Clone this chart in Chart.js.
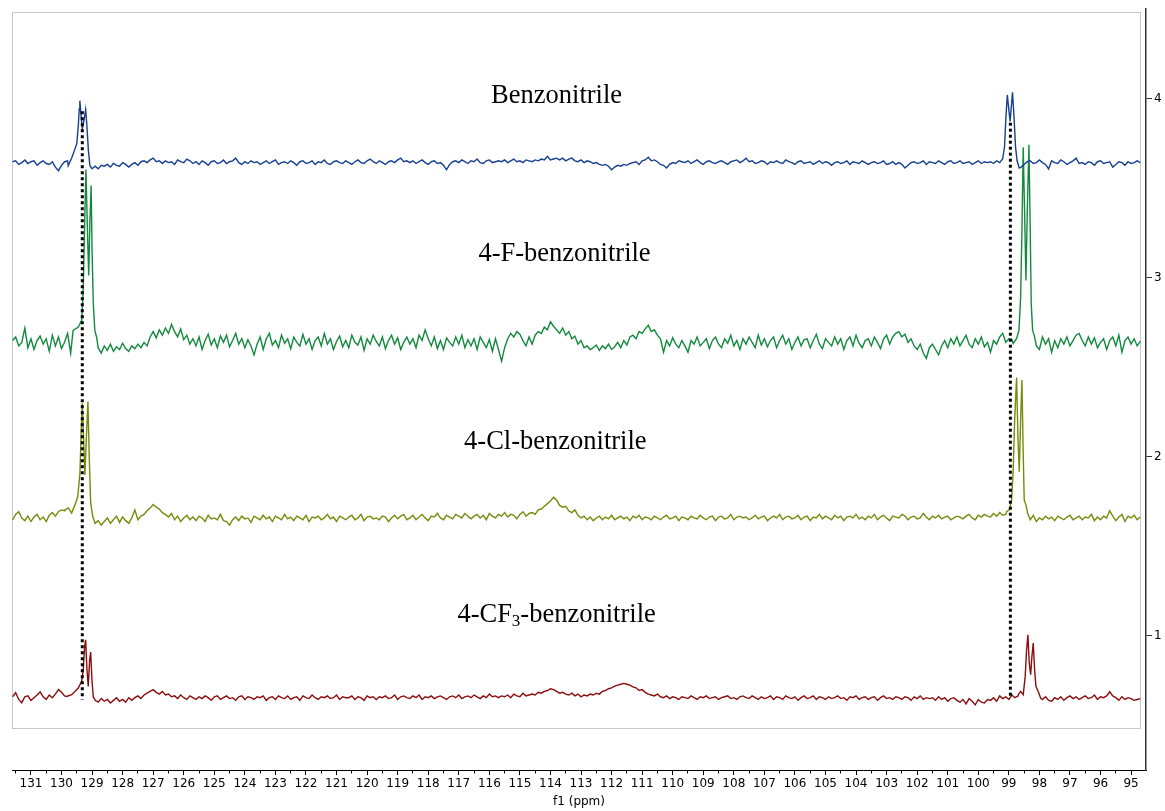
<!DOCTYPE html>
<html>
<head>
<meta charset="utf-8">
<script src="https://cdn.jsdelivr.net/npm/chart.js@4.4.1/dist/chart.umd.min.js"></script>
<style>
  body { margin: 0; background: #fff; }
  canvas { display: block; }
</style>
</head>
<body>
<canvas id="nmr" width="1165" height="811"></canvas>
<script>
// baseline rows are sampled every 0.1 ppm, from 131.6 down to 94.7 (10 points per row)
// values are in hundredths of one stack unit; null = covered by the peak tables below
const gridStart = 131.6;
const gridStep = 0.1;

const names = ['Benzonitrile', '4-F-benzonitrile', '4-Cl-benzonitrile', '4-CF3-benzonitrile'];
const colors = ['#173f8f', '#128a3e', '#748c0b', '#8c0d0d'];
const offsets = [3.643, 2.639, 1.658, 0.654];

const benzNoise = [
  0.5, 1, -1, 0, 1.5, -0.5, 0.5, 1, -1.5, 0,
  1, -0.5, -1, 0.5, -2.5, -4.5, -1.5, 0.5, 1, null,
  null, null, null, null, null, null, null, -2, -3.5, -1.5,
  -2, -1, -2.5, -0.5, -1.5, -2, 0, -1, -2.5, -1,
  0, -1.5, 0.5, 1, 0, 1.5, 2.5, 0.5, 1, -0.5,
  1, 0, 0.5, -1, 1.5, 0.5, 0, 2, 1, -0.5,
  0.5, -1, 1, 0, -1.5, 0.5, 1, -0.5, 0, 1.5,
  -0.5, 0.5, 1, 2.5, 0, -1, 0.5, -0.5, 1, 0,
  0.5, -1, 0, 1, -0.5, 0.5, 1.5, -1, 0, 0.5,
  -0.5, 1, 0, -1.5, 0.5, 1, -0.5, 0, 1, -1,
  0.5, 0, 1.5, -0.5, -1, 0.5, 1, 0, -0.5, 1,
  0, -1, 0.5, 1.5, 0, -0.5, 1, 2, 0.5, -0.5,
  1, 0, -1, 0.5, 1, 0, 1.5, 2.5, 0.5, 1,
  0, 1, -0.5, 0.5, 1.5, 0, -1, 0.5, 1, -0.5,
  0, -1.5, -4, -1, 0.5, 1, 0, 1.5, 0.5, -0.5,
  1, 0.5, 2, 0, -0.5, 1, 1.5, 0, 0.5, 1,
  0.5, 1.5, 0, 1, 2, 0.5, 1, 0, 1.5, 1,
  0.5, 1.5, 1, 2, 1.5, 3.5, 1.5, 2, 2.5, 1.5,
  2.5, 1, 2, 2.5, 1, 0.5, 1.5, 0, 1, 0.5,
  -0.5, 0, -1, -1.5, -1, -2, -4, -2.5, -1.5, -2,
  -1, -1.5, -0.5, 0, 0.5, -1, 1, 1.5, 3, 1,
  1.5, 0.5, -1, -1.5, -3, -1, 0, -0.5, 1, 0.5,
  0, 1, -0.5, 0.5, 1.5, 0, -1, 0.5, 1, 0,
  -0.5, 0.5, 1, 0, -1, 0.5, 1, 1.5, 0, 1,
  2.5, 0.5, 1, -0.5, 0, 1, 0.5, -1, 0.5, 0,
  1, 0, -0.5, 1.5, 0.5, 0, -1, 0.5, 1, -0.5,
  0, 0.5, -1, 0, 1, -0.5, 0.5, 0, -1.5, 0,
  0.5, -0.5, 0, 1, -1, 0.5, 0, -0.5, 1, 0,
  -1, 0, 0.5, -0.5, 0, 1, -1, -0.5, 0.5, -1,
  0, -1, -3, -1.5, 0, 0.5, -0.5, 0, 1, -1,
  0.5, 0, -0.5, 1, 0, -1, 0.5, 1, -0.5, 0,
  1, -0.5, 0, 0.5, -1, 0, 1, -0.5, 0.5, 0,
  0.5, -0.5, 1, 0, null, null, null, null, null, null,
  -2.5, -1, 0.5, 1, -0.5, 0, 1.5, 0, -1, -3.5,
  1, 0, -0.5, 1.5, 0.5, -1, 0, 1, 2.5, -0.5,
  0, -1, 0.5, 0, -1.5, 0.5, 1, -0.5, 0, 0.5,
  -2.5, -1, 0.5, 0, -1.5, 0.5, -0.5, 0, 1, 0
];

const fluoroNoise = [
  1, 3, -2, 0, 8, -3, 2, -4, 1, 3.5,
  -1, 2, -5, 4, -2, 3, -3.5, 0, 5, -6,
  null, null, null, null, null, null, null, null, -3, -6,
  -2, -4.5, -1, -5, -2.5, -4, -0.5, -3.5, -5, -2,
  -3.5, -1, -3, 0, -2, 3, 6, 2.5, 7, 4,
  8, 5, 10, 6, 3, 7.5, 1.5, 4, -1, 2,
  -2, 3, -4, 1, 4.5, -1.5, 2, -3, 3.5, 0,
  4, -2.5, 1, 5, -1, 2, -3, 1.5, -2, -7,
  -1, 3, -4, 2, 5, -1.5, 1, -3, 4, -0.5,
  2, -3.5, 3, 0, -2, 4.5, -1, 2, -4, 1,
  3, -2, 5, -1, 2, -4, 0.5, 3.5, -2.5, 1,
  -3, 4, 0, -1.5, 3, -4.5, 2, -1, 4, 0.5,
  -2, 3, -3.5, 1, 4, -1, 2.5, -4, 0, 3,
  -1, 2, -3, 4, 1, 7, 2, -2, 3, -3.5,
  1, -4, 2.5, 0, -2, 3, -1, 4, -3, 1.5,
  -2, 2, -4, 3, 0, -3, 1.5, -5, 2, -4,
  -10.5, -3, 2, 5, 3, 6, 4.5, 1, -2, 3,
  -1, 4, 6, 5, 8.5, 7, 11.5, 9, 7, 5,
  8, 4, 6, 2, 3.5, -1, 1, -3, -2, -4,
  -3, -1.5, -4.5, -2, -3.5, -1, -4, -2.5, 0, -3,
  1, -1.5, 3, 4, 2, 6, 5, 7.5, 9.5, 6,
  7, 4, 2, -5.5, 1, -2, 2.5, -1, -3, 1,
  -2, -5.5, 1, -1, 3, -2, 0, 2, -3.5, 1,
  3, -1, -3, 2, -0.5, 4, -2, 1, -4, 2,
  -1, 3, 0, -3, 4, -1.5, 2, -2.5, 1, 3,
  -3, 1, 4, -1, 2, -4, 0, 3, -2, 1.5,
  2, -3, 1, 4.5, -1, -3.5, 2, 0, -2, 3,
  -1, 2, -4, 1, 3, -2, 4, -0.5, -3, 1,
  2, -2, 3, 0, -3.5, 2, 4, -1, 3, 5,
  6, 3, 4.5, 0, 2, -2, -4, -1, -6, -9,
  -3, -1, -4, -7, -2, 1, -3, 2, -1, 3,
  -2, 1, 4, -1, -3, 2, -1, 3, -2.5, 0,
  -5.5, 1, -1, 3, 5, 0, 2, 1.5, null, null,
  null, null, null, null, null, -2, -4, 3, -1, 2,
  -5.5, 1, -3, 2, -1, 3, -2, 1, 4, 5,
  1, -2, 3, -1, 2.5, -3, 0, 2, -4, 1,
  3, -2, 4, -5.5, 1, 3, -1, 2, -2, 0.5
];

const chloroNoise = [
  -1, 2, 3.5, 0, -1.5, 1, -2, 0.5, 2, -1,
  0.5, -2, 1.5, 3, 1, 3.5, 4.5, 4, null, null,
  null, null, null, null, null, null, null, -3, -1.5, -4,
  -2, 0, -3, -1, 1, -2.5, 0.5, -1.5, -3, 0,
  4.5, -1, 1, 2, 4, 5.5, 7.5, 6, 5, 3,
  2, 0.5, 2.5, -1, 1, -2, 0, 1.5, -1, 0.5,
  -1.5, 1, 0, -2, 1.5, -0.5, 0, -1, 2, -1.5,
  -2, -4, -1, 0.5, -1.5, 1, -0.5, 0, -2.5, 1,
  0, -1, 1.5, -0.5, 0.5, -2, 1, 0, -1, 2,
  -0.5, 0.5, -1.5, 1, 0, -1, 1.5, -2, 0.5, 0,
  1, -1, 0, 2, -0.5, 0.5, -2, 1, 0, -1,
  0.5, 1.5, -1, 0, 2, -1.5, 0.5, 1, -0.5, 0,
  -1, 1, 0.5, -2, 0, 1.5, -0.5, 1, 2, -1,
  0, 1.5, -1, 0.5, 2, 0, -1.5, 1, 0.5, 2.5,
  0, -1, 1.5, 0.5, -0.5, 2, 1, 0, 2.5, 1,
  -0.5, 1, 2, 0, 1.5, -1, 2.5, 1, 0, 2,
  1, 3, 0.5, 2, 1.5, -0.5, 2, 3.5, 1, 2.5,
  3, 2, 4.5, 5, 6.5, 8, 9.5, 11.5, 10, 7,
  6, 6.5, 4, 3, 4.5, 1.5, 0, 1, -1, 0.5,
  -1.5, 0, 1, -1, 0.5, -0.5, 1.5, -1, 0, 1,
  -0.5, 0.5, -1.5, 1, 0, 1.5, -1, 0.5, 0, -1,
  1, 0, -1, 0.5, 1.5, -0.5, 0, 1, -1.5, 0.5,
  0, -1, 1, 0, -0.5, 1.5, 0, -1, 0.5, 1,
  -1.5, 0.5, 1, -0.5, 0, 2, -1, 0.5, 1, 0,
  0.5, -1, 0, 1.5, -0.5, 0.5, 1, -1.5, 0, 1,
  0, 2, -1, 0.5, 1, -0.5, 0, 1.5, -1, 0.5,
  1, -1.5, 0.5, 0, 2, -0.5, 1, 0, -1, 1.5,
  0, 1, -1.5, 0.5, 1, 0, 2, -0.5, 0.5, -1,
  1, 0, 2, -1, 0.5, 1.5, 0, -1.5, 1, 0.5,
  0, 2, 1, -1, 0.5, 1, -0.5, 0, 2.5, 0.5,
  -1, 1, 0, 1.5, -0.5, 0.5, 1, -1, 0, 1,
  0.5, -0.5, 1, 2, 0, -1, 1.5, 0.5, 2, 1,
  0.5, 2.5, 1, 3, 1.5, 2, null, null, null, null,
  null, null, null, -1, 1.5, -2, 0, -1, 1, -0.5,
  0.5, -1.5, 1, 0, -1, 0.5, 1.5, -1, 0, 1,
  -1, 0.5, 0, 2, -1.5, 0.5, -1, 1, 0, 4,
  1, -1.5, 0.5, 2, -2, 1, 0, 1.5, -1, 0.5
];

const trifluoroNoise = [
  0.5, 2.8, -1, -2.8, 0.5, 1, -1.5, 0, 1.5, 3.3,
  0.5, -1, 1.5, 0, 2, 4.5, 3, 1, null, null,
  null, null, null, null, null, null, null, -1.5, -2.5, -0.5,
  -2, -1, -3, -1.5, 0, -2, -1, -2.5, 0, -1.5,
  0, 1, -0.5, 1.5, 2.5, 3.5, 4.5, 3, 2, 3.5,
  1.5, 2, 0.5, 1, -0.5, 1.5, 0, -1, 1, 0,
  -1, 0.5, -0.5, 1, 0, -1.5, 0.5, 1, -1, 0,
  1, -0.5, 0, -1.5, 0.5, 1, -1, 0.5, 0, -1,
  0.5, 0, 1, -1.5, 0, 0.5, -1, 1, 0, -0.5,
  1, -1, 0, 0.5, -1.5, 1, 0, -0.5, 1.5, 0,
  -1, 0.5, 0, 1, -0.5, 0, 1.5, -1, 0.5, 0,
  0, 1, -1, 0.5, 0, -1.5, 1, 0, 0.5, -1,
  0.5, 0, 1, -0.5, 0, 1.5, -1, 0.5, 1, 0,
  -0.5, 1, 0, 1.5, -1, 0.5, 0, 1, -0.5, 0.5,
  1, 0, -1, 0.5, 1, 0, 1.5, -0.5, 0.5, 1,
  0, 1.5, 0.5, -0.5, 1, 0, 2, 0.5, 1, 0,
  1, 0.5, 1.5, 0, 2, 1, 0.5, 2.5, 1, 1.5,
  2, 1.5, 3, 2.5, 3.5, 4, 5, 4.5, 3.5, 2.5,
  3, 2, 1.5, 2.5, 1, 2, 0.5, 1.5, 1, 2,
  1.5, 2.5, 2, 3.5, 4, 5, 5.5, 6.5, 7, 7.5,
  8, 7.5, 7, 6, 5.5, 4, 4.5, 3, 2, 1.5,
  1, 2, 0.5, 0, 1, -0.5, 0.5, 0, -1, 0.5,
  0, -0.5, 1, 0, -1, 0.5, 0, 1, -0.5, 0,
  0.5, -1, 0, 0.5, 1, -0.5, 0, -1, 0.5, 1,
  0, -0.5, 1, 0, -1, 0.5, -0.5, 0, 1, -1,
  0.5, 0, -1, 1, 0, -0.5, 0.5, -1.5, 0, 1,
  -0.5, 0, 1, -1, 0.5, 0, -1, 0.5, -0.5, 0,
  1, -0.5, 0, -1.5, 0.5, 0, 1, -1, 0, 0.5,
  -1, 0, 0.5, -1.5, 0, 1, -0.5, 0, -1, 0.5,
  0, -1, 0.5, 0, -1.5, 0.5, -0.5, 1, -1, 0,
  -0.5, 0, -1.5, 0.5, -1, 0, -2, -0.5, 0, -1.5,
  -2.5, -1, -3.5, -0.5, -2, -4, -1, -2.5, -3, -1,
  -1.5, 0, -2, 1, -0.5, 0.5, -1, 1.5, 0, 1,
  null, null, null, null, null, null, null, -1, 0.5, -1.5,
  -2, 0, -1, 0.5, -1.5, 0, 1, -0.5, 0.5, -1,
  0, 1, -0.5, 0, 1.5, -1, 0.5, 0, 1, 3.3,
  1, 0, -1.5, 0.5, -1, 0, -0.5, -1.5, -1, -0.5
];

// resolved doublets: [ppm, intensity]
const benzPeaks = [
  [129.78, -1.7], [129.66, 2.8], [129.58, 6.7], [129.50, 10.6], [129.45, 20.7],
  [129.42, 30], [129.40, 34.6], [129.36, 26], [129.32, 19], [129.28, 22],
  [129.21, 29.6], [129.17, 20.7], [129.12, 6.7], [129.07, -1.7], [129.00, -3.4],
  [99.29, 0], [99.20, 2.2], [99.14, 9], [99.095, 25.7], [99.05, 37.8],
  [98.96, 23], [98.88, 39.3], [98.83, 25.4], [98.78, 8.6], [98.73, 1], [98.66, -3]
];
const fluoroPeaks = [
  [129.62, 6.7], [129.45, 8.5], [129.34, 12.3], [129.29, 29], [129.24, 68],
  [129.20, 96.5], [129.16, 68], [129.11, 37.4], [129.07, 68], [129.03, 87.6],
  [129.00, 51], [128.96, 21.8], [128.91, 6.7], [128.85, 2.8],
  [98.857, -0.7], [98.746, 2.2], [98.67, 6.7], [98.615, 25], [98.572, 62],
  [98.53, 109], [98.484, 72], [98.441, 34.6], [98.399, 72], [98.343, 110.4],
  [98.30, 62], [98.268, 21.7], [98.222, 6.7], [98.17, 3.9], [98.114, -0.6]
];
const chloroPeaks = [
  [129.887, 4.5], [129.78, 5.6], [129.67, 2.8], [129.56, 7.3], [129.47, 11.7],
  [129.397, 25], [129.354, 49], [129.321, 64], [129.276, 43.5], [129.233, 24],
  [129.19, 43.5], [129.135, 65], [129.092, 34], [129.046, 8.4], [128.98, 1.1], [128.906, -2.8],
  [99.073, 3.5], [98.988, 4.5], [98.91, 10], [98.857, 26.8], [98.81, 54.7],
  [98.746, 78.4], [98.703, 45.3], [98.66, 25.8], [98.615, 54.7], [98.572, 77],
  [98.53, 36], [98.497, 10], [98.441, 7.3], [98.386, 2.6]
];
const trifluoroPeaks = [
  [129.832, 0.7], [129.668, 1.7], [129.56, 3.5], [129.452, 5.4], [129.341, 9.1],
  [129.289, 15.6], [129.243, 28.6], [129.21, 32.3], [129.167, 15.6], [129.125, 6.3],
  [129.079, 21.2], [129.046, 25.5], [129.004, 10], [128.961, 0.4], [128.906, -1.1],
  [98.693, 1.7], [98.615, 3.5], [98.53, 1.7], [98.465, 11.9], [98.419, 26.8],
  [98.376, 35.1], [98.333, 19.4], [98.287, 12.8], [98.245, 23], [98.202, 30.5],
  [98.157, 15.6], [98.114, 6.3], [98.039, 3.5], [97.96, -0.2]
];

// dotted guides through the two nitrile-ring carbons: [ppm, top, bottom]
const guides = [[129.32, 3.93, 0.643], [98.95, 3.866, 0.66]];

// label anchors: [ppm at text centre, stack value at baseline]
const labelAnchors = [[113.80, 3.978], [113.54, 3.096], [113.84, 2.043], [113.80, 1.078]];

const noises = [benzNoise, fluoroNoise, chloroNoise, trifluoroNoise];
const peaks = [benzPeaks, fluoroPeaks, chloroPeaks, trifluoroPeaks];

function buildTrace(noise, peakList, offset) {
  const pts = [];
  noise.forEach((v, i) => {
    if (v === null) return;
    pts.push({ x: +(gridStart - i * gridStep).toFixed(2), y: offset + v / 100 });
  });
  peakList.forEach(([ppm, v]) => pts.push({ x: ppm, y: offset + v / 100 }));
  return pts.sort((a, b) => b.x - a.x);
}

const datasets = names.map((name, k) => ({
  label: name,
  data: buildTrace(noises[k], peaks[k], offsets[k]),
  borderColor: colors[k],
  borderWidth: 1.4,
  pointRadius: 0,
  tension: 0,
  order: 1
}));
guides.forEach(([ppm, top, bottom], k) => datasets.push({
  label: 'guide ' + k,
  data: [{ x: ppm, y: top }, { x: ppm, y: bottom }],
  borderColor: '#000',
  borderWidth: 3,
  borderDash: [3, 3],
  pointRadius: 0,
  order: 0
}));

const framePlugin = {
  id: 'frame',
  beforeDatasetsDraw(chart) {
    const c = chart.ctx;
    c.save();
    c.strokeStyle = '#c8c8c8';
    c.lineWidth = 1;
    c.strokeRect(12.5, 12.5, 1128, 716);
    c.restore();
  }
};

const labelPlugin = {
  id: 'stackLabels',
  afterDatasetsDraw(chart) {
    const c = chart.ctx, xs = chart.scales.x, ys = chart.scales.y;
    const big = '26.5px "Liberation Serif", "Times New Roman", serif';
    const small = '17px "Liberation Serif", "Times New Roman", serif';
    c.save();
    c.fillStyle = '#000';
    c.textBaseline = 'alphabetic';
    c.textAlign = 'left';
    labelAnchors.forEach(([ppm, val], k) => {
      const cx = xs.getPixelForValue(ppm), by = ys.getPixelForValue(val);
      let parts = [[names[k], big, 0]];
      if (names[k].startsWith('4-CF3')) {
        parts = [['4-CF', big, 0], ['3', small, 4], ['-benzonitrile', big, 0]];
      }
      let w = 0;
      parts.forEach(p => { c.font = p[1]; w += c.measureText(p[0]).width; });
      let x = cx - w / 2;
      parts.forEach(p => {
        c.font = p[1];
        c.fillText(p[0], x, by + p[2]);
        x += c.measureText(p[0]).width;
      });
    });
    c.restore();
  }
};

new Chart(document.getElementById('nmr'), {
  type: 'line',
  data: { datasets },
  plugins: [framePlugin, labelPlugin],
  options: {
    responsive: false,
    animation: false,
    devicePixelRatio: 1,
    layout: { padding: { left: 12, top: 8, right: 0, bottom: 0 } },
    plugins: { legend: { display: false }, tooltip: { enabled: false } },
    scales: {
      x: {
        type: 'linear',
        reverse: true,
        min: 94.512,
        max: 131.62,
        ticks: {
          stepSize: 0.5,
          includeBounds: false,
          autoSkip: false,
          maxRotation: 0,
          padding: 2,
          color: '#000',
          font: { family: 'DejaVu Sans', size: 12 },
          callback: v => Number.isInteger(v) ? String(v) : ''
        },
        grid: {
          drawOnChartArea: false,
          tickLength: 5,
          tickColor: '#000',
          tickBorderDash: ctx => (ctx.tick && Number.isInteger(ctx.tick.value)) ? [] : [2.5, 20]
        },
        border: { color: '#000', width: 1 },
        title: {
          display: true,
          text: 'f1 (ppm)',
          color: '#000',
          font: { family: 'DejaVu Sans', size: 12 },
          padding: { top: 1, bottom: 2 }
        },
        afterFit(s) { s.height = 41; }
      },
      y: {
        position: 'right',
        min: 0.25,
        max: 4.5,
        ticks: {
          stepSize: 1,
          includeBounds: false,
          padding: 2,
          color: '#000',
          font: { family: 'DejaVu Sans', size: 12 }
        },
        grid: { drawOnChartArea: false, tickLength: 6, tickColor: '#333' },
        border: { color: '#333', width: 1.5 },
        afterFit(s) { s.width = 19; }
      }
    }
  }
});
</script>
</body>
</html>
